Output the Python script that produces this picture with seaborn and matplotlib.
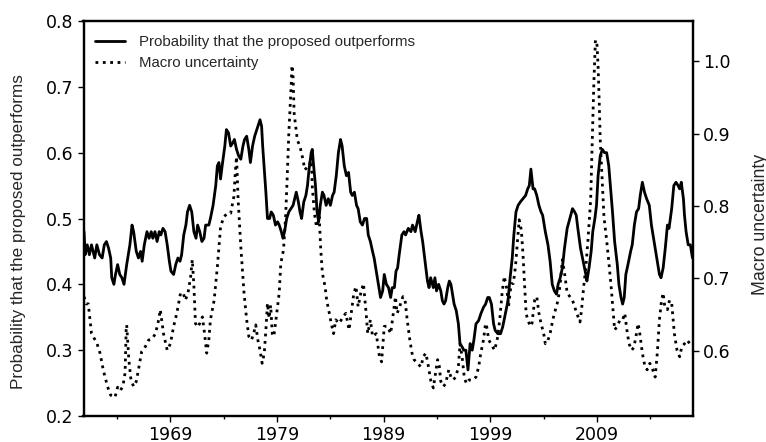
import numpy as np
import pandas as pd
import matplotlib
matplotlib.use("Agg")
import matplotlib.pyplot as plt
from matplotlib.ticker import FixedLocator
import seaborn as sns

# ---- data ----
prob_years = [1960.9, 1961.0, 1961.2, 1961.4, 1961.6, 1961.9, 1962.1, 1962.35, 1962.6, 1962.8,
              1963.0, 1963.2, 1963.4, 1963.5, 1963.7, 1963.85, 1964.05, 1964.25, 1964.45, 1964.65,
              1964.9, 1965.2, 1965.4, 1965.55, 1965.8, 1966.0, 1966.2, 1966.35, 1966.55, 1966.8,
              1967.0, 1967.2, 1967.35, 1967.55, 1967.75, 1967.95, 1968.1, 1968.3, 1968.5, 1968.7,
              1968.9, 1969.05, 1969.3, 1969.5, 1969.7, 1969.9, 1970.05, 1970.25, 1970.45, 1970.6,
              1970.8, 1971.0, 1971.2, 1971.4, 1971.55, 1971.75, 1971.95, 1972.15, 1972.3, 1972.6,
              1972.75, 1973.0, 1973.25, 1973.4, 1973.55, 1973.7, 1973.85, 1974.1, 1974.25, 1974.45,
              1974.65, 1974.85, 1975.0, 1975.2, 1975.4, 1975.6, 1975.8, 1975.95, 1976.15, 1976.35,
              1976.5, 1976.7, 1976.9, 1977.1, 1977.3, 1977.4, 1977.55, 1977.65, 1977.8, 1977.95,
              1978.1, 1978.3, 1978.45, 1978.65, 1978.85, 1979.05, 1979.2, 1979.4, 1979.55, 1979.7,
              1979.9, 1980.1, 1980.3, 1980.5, 1980.65, 1980.8, 1981.0, 1981.15, 1981.3, 1981.5,
              1981.7, 1981.85, 1982.0, 1982.2, 1982.3, 1982.4, 1982.6, 1982.75, 1982.9, 1983.05,
              1983.25, 1983.4, 1983.6, 1983.8, 1984.0, 1984.2, 1984.35, 1984.55, 1984.75, 1984.95,
              1985.1, 1985.3, 1985.5, 1985.7, 1985.9, 1986.05, 1986.25, 1986.45, 1986.6, 1986.8,
              1987.0, 1987.2, 1987.4, 1987.55, 1987.75, 1987.95, 1988.1, 1988.3, 1988.5, 1988.7,
              1988.9, 1989.05, 1989.25, 1989.45, 1989.65, 1989.8, 1990.0, 1990.15, 1990.3, 1990.45,
              1990.7, 1990.9, 1991.05, 1991.3, 1991.55, 1991.7, 1991.95, 1992.15, 1992.3, 1992.5,
              1992.65, 1992.8, 1992.95, 1993.1, 1993.25, 1993.4, 1993.65, 1993.8, 1993.95, 1994.15,
              1994.35, 1994.5, 1994.65, 1994.8, 1995.0, 1995.15, 1995.3, 1995.45, 1995.6, 1995.8,
              1996.0, 1996.15, 1996.35, 1996.5, 1996.7, 1996.9, 1997.1, 1997.3, 1997.45, 1997.65,
              1997.9, 1998.1, 1998.35, 1998.55, 1998.75, 1998.9, 1999.1, 1999.3, 1999.45, 1999.7,
              1999.95, 2000.15, 2000.4, 2000.65, 2000.85, 2001.05, 2001.2, 2001.4, 2001.6, 2001.8,
              2002.05, 2002.3, 2002.5, 2002.65, 2002.8, 2003.0, 2003.15, 2003.35, 2003.55, 2003.75,
              2003.9, 2004.15, 2004.4, 2004.6, 2004.8, 2005.0, 2005.2, 2005.35, 2005.55, 2005.75,
              2005.95, 2006.2, 2006.45, 2006.7, 2006.9, 2007.05, 2007.2, 2007.45, 2007.7, 2007.95,
              2008.05, 2008.25, 2008.45, 2008.6, 2008.8, 2008.95, 2009.1, 2009.3, 2009.5, 2009.7,
              2009.9, 2010.1, 2010.25, 2010.45, 2010.65, 2010.9, 2011.05, 2011.25, 2011.4, 2011.55,
              2011.7, 2011.9, 2012.15, 2012.3, 2012.5, 2012.7, 2012.9, 2013.05, 2013.25, 2013.45,
              2013.65, 2013.9, 2014.1, 2014.35, 2014.6, 2014.85, 2015.0, 2015.2, 2015.4, 2015.6,
              2015.75, 2016.0, 2016.2, 2016.4, 2016.6, 2016.75, 2016.9, 2017.1, 2017.2, 2017.35,
              2017.55, 2017.75, 2017.95]
prob_values = [0.48, 0.445, 0.46, 0.445, 0.46, 0.44, 0.46, 0.445, 0.44, 0.46,
               0.465, 0.455, 0.44, 0.41, 0.40, 0.415, 0.43, 0.415, 0.41, 0.40,
               0.43, 0.46, 0.49, 0.48, 0.45, 0.44, 0.45, 0.435, 0.46, 0.48,
               0.47, 0.48, 0.47, 0.48, 0.465, 0.48, 0.475, 0.485, 0.48, 0.46,
               0.435, 0.42, 0.415, 0.43, 0.44, 0.435, 0.445, 0.475, 0.49, 0.51,
               0.52, 0.51, 0.48, 0.47, 0.49, 0.48, 0.465, 0.47, 0.49, 0.49,
               0.50, 0.52, 0.55, 0.58, 0.585, 0.56, 0.58, 0.61, 0.635, 0.63,
               0.61, 0.615, 0.62, 0.605, 0.595, 0.59, 0.61, 0.62, 0.625, 0.605,
               0.585, 0.61, 0.625, 0.635, 0.645, 0.65, 0.64, 0.61, 0.575, 0.54,
               0.50, 0.50, 0.51, 0.505, 0.49, 0.495, 0.49, 0.48, 0.47, 0.48,
               0.50, 0.51, 0.515, 0.52, 0.53, 0.54, 0.525, 0.51, 0.50, 0.525,
               0.535, 0.55, 0.575, 0.60, 0.605, 0.585, 0.55, 0.51, 0.495, 0.52,
               0.54, 0.535, 0.52, 0.53, 0.52, 0.535, 0.54, 0.565, 0.60, 0.62,
               0.61, 0.58, 0.565, 0.57, 0.54, 0.535, 0.54, 0.52, 0.515, 0.495,
               0.49, 0.50, 0.50, 0.475, 0.465, 0.45, 0.44, 0.42, 0.40, 0.38,
               0.39, 0.415, 0.40, 0.395, 0.38, 0.395, 0.395, 0.42, 0.425, 0.445,
               0.475, 0.48, 0.475, 0.485, 0.48, 0.49, 0.48, 0.495, 0.505, 0.48,
               0.465, 0.445, 0.425, 0.405, 0.395, 0.41, 0.395, 0.41, 0.39, 0.40,
               0.39, 0.375, 0.37, 0.375, 0.395, 0.405, 0.40, 0.385, 0.37, 0.36,
               0.34, 0.31, 0.305, 0.30, 0.30, 0.27, 0.31, 0.30, 0.315, 0.34,
               0.345, 0.355, 0.365, 0.37, 0.38, 0.38, 0.37, 0.34, 0.33, 0.325,
               0.325, 0.335, 0.355, 0.375, 0.41, 0.44, 0.475, 0.51, 0.52, 0.525,
               0.53, 0.535, 0.545, 0.55, 0.575, 0.545, 0.545, 0.535, 0.52, 0.51,
               0.505, 0.48, 0.46, 0.435, 0.40, 0.39, 0.385, 0.40, 0.41, 0.425,
               0.455, 0.485, 0.50, 0.515, 0.51, 0.505, 0.485, 0.455, 0.435, 0.415,
               0.405, 0.425, 0.45, 0.48, 0.50, 0.52, 0.565, 0.595, 0.605, 0.60,
               0.60, 0.58, 0.55, 0.51, 0.465, 0.43, 0.40, 0.38, 0.37, 0.38,
               0.415, 0.43, 0.45, 0.46, 0.49, 0.51, 0.515, 0.535, 0.555, 0.54,
               0.53, 0.52, 0.49, 0.465, 0.44, 0.415, 0.41, 0.425, 0.455, 0.49,
               0.485, 0.515, 0.55, 0.555, 0.55, 0.545, 0.555, 0.53, 0.505, 0.48,
               0.46, 0.46, 0.44]

macro_years = [1960.9, 1961.1, 1961.3, 1961.6, 1962.1, 1962.4, 1962.7, 1963.1, 1963.4, 1963.8,
               1964.05, 1964.3, 1964.55, 1964.75, 1964.85, 1964.9, 1965.1, 1965.3, 1965.55, 1965.8,
               1966.0, 1966.3, 1966.65, 1966.95, 1967.3, 1967.6, 1967.9, 1968.05, 1968.2, 1968.35,
               1968.7, 1969.0, 1969.3, 1969.6, 1969.95, 1970.2, 1970.4, 1970.65, 1970.9, 1971.05,
               1971.2, 1971.35, 1971.55, 1971.75, 1972.0, 1972.2, 1972.4, 1972.6, 1972.75, 1973.1,
               1973.4, 1973.7, 1974.0, 1974.35, 1974.65, 1974.95, 1975.1, 1975.2, 1975.35, 1975.6,
               1975.9, 1976.15, 1976.35, 1976.6, 1976.8, 1977.0, 1977.2, 1977.4, 1977.6, 1977.8,
               1977.95, 1978.1, 1978.25, 1978.4, 1978.55, 1978.7, 1978.95, 1979.2, 1979.35, 1979.6,
               1979.8, 1979.95, 1980.1, 1980.3, 1980.4, 1980.5, 1980.6, 1980.75, 1980.9, 1981.15,
               1981.4, 1981.6, 1981.8, 1982.0, 1982.15, 1982.25, 1982.3, 1982.5, 1982.7, 1982.95,
               1983.1, 1983.25, 1983.5, 1983.65, 1983.9, 1984.05, 1984.3, 1984.5, 1984.85, 1985.15,
               1985.45, 1985.75, 1985.95, 1986.2, 1986.4, 1986.6, 1986.85, 1987.1, 1987.35, 1987.5,
               1987.75, 1987.95, 1988.3, 1988.6, 1988.8, 1989.05, 1989.35, 1989.65, 1989.9, 1990.1,
               1990.25, 1990.4, 1990.6, 1990.8, 1991.0, 1991.2, 1991.45, 1991.65, 1991.85, 1992.15,
               1992.5, 1992.7, 1992.95, 1993.2, 1993.4, 1993.65, 1993.8, 1994.05, 1994.2, 1994.35,
               1994.6, 1994.8, 1995.1, 1995.3, 1995.5, 1995.75, 1996.0, 1996.15, 1996.35, 1996.55,
               1996.75, 1997.0, 1997.35, 1997.65, 1997.9, 1998.1, 1998.35, 1998.55, 1998.65, 1998.85,
               1999.05, 1999.4, 1999.7, 1999.9, 2000.1, 2000.3, 2000.55, 2000.7, 2000.95, 2001.15,
               2001.35, 2001.55, 2001.7, 2001.9, 2002.05, 2002.2, 2002.35, 2002.5, 2002.75, 2002.9,
               2003.15, 2003.35, 2003.55, 2003.75, 2004.0, 2004.15, 2004.4, 2004.6, 2004.85, 2005.1,
               2005.35, 2005.55, 2005.75, 2005.95, 2006.2, 2006.45, 2006.7, 2006.9, 2007.1, 2007.4,
               2007.55, 2007.75, 2007.95, 2008.15, 2008.4, 2008.55, 2008.7, 2008.85, 2009.0, 2009.1,
               2009.2, 2009.3, 2009.5, 2009.65, 2009.9, 2010.15, 2010.35, 2010.5, 2010.65, 2010.9,
               2011.15, 2011.4, 2011.6, 2011.8, 2012.0, 2012.25, 2012.45, 2012.65, 2012.85, 2013.0,
               2013.25, 2013.5, 2013.7, 2013.95, 2014.2, 2014.45, 2014.65, 2014.85, 2015.05, 2015.2,
               2015.35, 2015.6, 2015.8, 2016.0, 2016.25, 2016.5, 2016.75, 2016.95, 2017.2, 2017.45,
               2017.7, 2017.95]
macro_values = [0.675, 0.665, 0.665, 0.624, 0.611, 0.597, 0.574, 0.551, 0.539, 0.536,
                0.550, 0.545, 0.552, 0.570, 0.630, 0.636, 0.588, 0.560, 0.551, 0.558,
                0.574, 0.599, 0.606, 0.615, 0.617, 0.624, 0.643, 0.657, 0.640, 0.624,
                0.601, 0.610, 0.634, 0.652, 0.680, 0.680, 0.670, 0.680, 0.703, 0.726,
                0.690, 0.638, 0.633, 0.638, 0.647, 0.624, 0.597, 0.615, 0.643, 0.670,
                0.716, 0.771, 0.785, 0.790, 0.790, 0.813, 0.850, 0.868, 0.808, 0.744,
                0.680, 0.643, 0.620, 0.615, 0.624, 0.636, 0.615, 0.601, 0.583, 0.597,
                0.629, 0.666, 0.645, 0.663, 0.624, 0.620, 0.650, 0.680, 0.721, 0.739,
                0.785, 0.840, 0.900, 0.960, 0.994, 0.978, 0.928, 0.909, 0.891, 0.882,
                0.866, 0.850, 0.853, 0.855, 0.863, 0.850, 0.827, 0.790, 0.771, 0.785,
                0.739, 0.707, 0.689, 0.670, 0.652, 0.640, 0.624, 0.643, 0.638, 0.647,
                0.652, 0.629, 0.652, 0.680, 0.689, 0.661, 0.680, 0.693, 0.652, 0.624,
                0.643, 0.620, 0.624, 0.592, 0.585, 0.634, 0.634, 0.624, 0.652, 0.675,
                0.652, 0.657, 0.666, 0.675, 0.670, 0.643, 0.615, 0.597, 0.588, 0.583,
                0.578, 0.592, 0.597, 0.578, 0.560, 0.549, 0.564, 0.588, 0.580, 0.558,
                0.551, 0.555, 0.574, 0.564, 0.560, 0.564, 0.578, 0.610, 0.592, 0.564,
                0.555, 0.560, 0.560, 0.564, 0.578, 0.597, 0.615, 0.638, 0.634, 0.615,
                0.610, 0.601, 0.620, 0.647, 0.680, 0.703, 0.685, 0.661, 0.693, 0.693,
                0.716, 0.753, 0.781, 0.767, 0.735, 0.693, 0.652, 0.643, 0.634, 0.638,
                0.670, 0.675, 0.652, 0.638, 0.624, 0.610, 0.615, 0.624, 0.643, 0.657,
                0.670, 0.693, 0.726, 0.708, 0.680, 0.675, 0.670, 0.661, 0.652, 0.640,
                0.657, 0.689, 0.716, 0.753, 0.808, 0.886, 0.969, 1.029, 1.022, 0.992,
                0.946, 0.891, 0.831, 0.785, 0.753, 0.716, 0.684, 0.657, 0.629, 0.634,
                0.643, 0.643, 0.652, 0.629, 0.610, 0.601, 0.605, 0.620, 0.638, 0.625,
                0.597, 0.578, 0.574, 0.583, 0.575, 0.564, 0.597, 0.643, 0.670, 0.680,
                0.661, 0.657, 0.670, 0.666, 0.624, 0.601, 0.592, 0.606, 0.610, 0.615,
                0.610, 0.606]

major_years = [1969, 1979, 1989, 1999, 2009]
minor_years = [1964, 1974, 1984, 1994, 2004, 2014]
left_ticks = [0.2, 0.3, 0.4, 0.5, 0.6, 0.7, 0.8]
right_ticks = [0.6, 0.7, 0.8, 0.9, 1.0]

label_prob = "Probability that the proposed outperforms"
label_macro = "Macro uncertainty"

prob_df = pd.DataFrame({"year": prob_years, "value": prob_values})
macro_df = pd.DataFrame({"year": macro_years, "value": macro_values})

# ---- style ----
sns.set_style("ticks")
plt.rcParams["font.family"] = ["DejaVu Sans"]
plt.rcParams["axes.edgecolor"] = "black"
plt.rcParams["axes.linewidth"] = 1.6

fig = plt.figure(figsize=(7.66, 4.42), dpi=100)
ax = fig.add_axes([83.5 / 766, 1 - 416 / 442, (692.7 - 83.5) / 766, (416 - 21) / 442])
ax2 = ax.twinx()

sns.lineplot(data=prob_df, x="year", y="value", ax=ax, color="black",
             linewidth=2.0, linestyle="-", label=label_prob, legend=False)
sns.lineplot(data=macro_df, x="year", y="value", ax=ax2, color="black",
             linewidth=2.0, linestyle=":", label=label_macro, legend=False)

ax.set_xlim(min(prob_years) - 0.05, max(prob_years) + 0.02)
ax.set_ylim(0.2, 0.8)
ax2.set_ylim(0.5103, 1.0552)

ax.xaxis.set_major_locator(FixedLocator(major_years))
ax.xaxis.set_minor_locator(FixedLocator(minor_years))
ax.set_xticklabels([str(y) for y in major_years])
ax.set_yticks(left_ticks)
ax.set_yticklabels([f"{v:.1f}" for v in left_ticks])
ax2.set_yticks(right_ticks)
ax2.set_yticklabels([f"{v:.1f}" for v in right_ticks])

for a in (ax, ax2):
    a.tick_params(axis="both", which="major", length=4, width=1, labelsize=12.5,
                  colors="black", direction="out")
    a.tick_params(axis="both", which="minor", length=2.5, width=1, colors="black")
    for s in a.spines.values():
        s.set_linewidth(1.6)
        s.set_color("black")

lab_font = ["Liberation Sans", "DejaVu Sans"]
ax.set_xlabel("")
ax.set_ylabel(label_prob, fontsize=12.3, family=lab_font, labelpad=14)
ax2.set_ylabel(label_macro, fontsize=12.8, family=lab_font, labelpad=15)
ax.yaxis.label.set_y(0.468)
ax2.yaxis.label.set_y(0.484)

h1, l1 = ax.get_legend_handles_labels()
h2, l2 = ax2.get_legend_handles_labels()
leg = ax.legend(h1 + h2, l1 + l2, loc="upper left", frameon=False,
                prop={"family": lab_font, "size": 10.8},
                handlelength=2.0, handletextpad=0.9, labelspacing=0.45,
                borderaxespad=0.55, bbox_to_anchor=(-0.004, 1.0))

fig.savefig("out.png", dpi=100)
